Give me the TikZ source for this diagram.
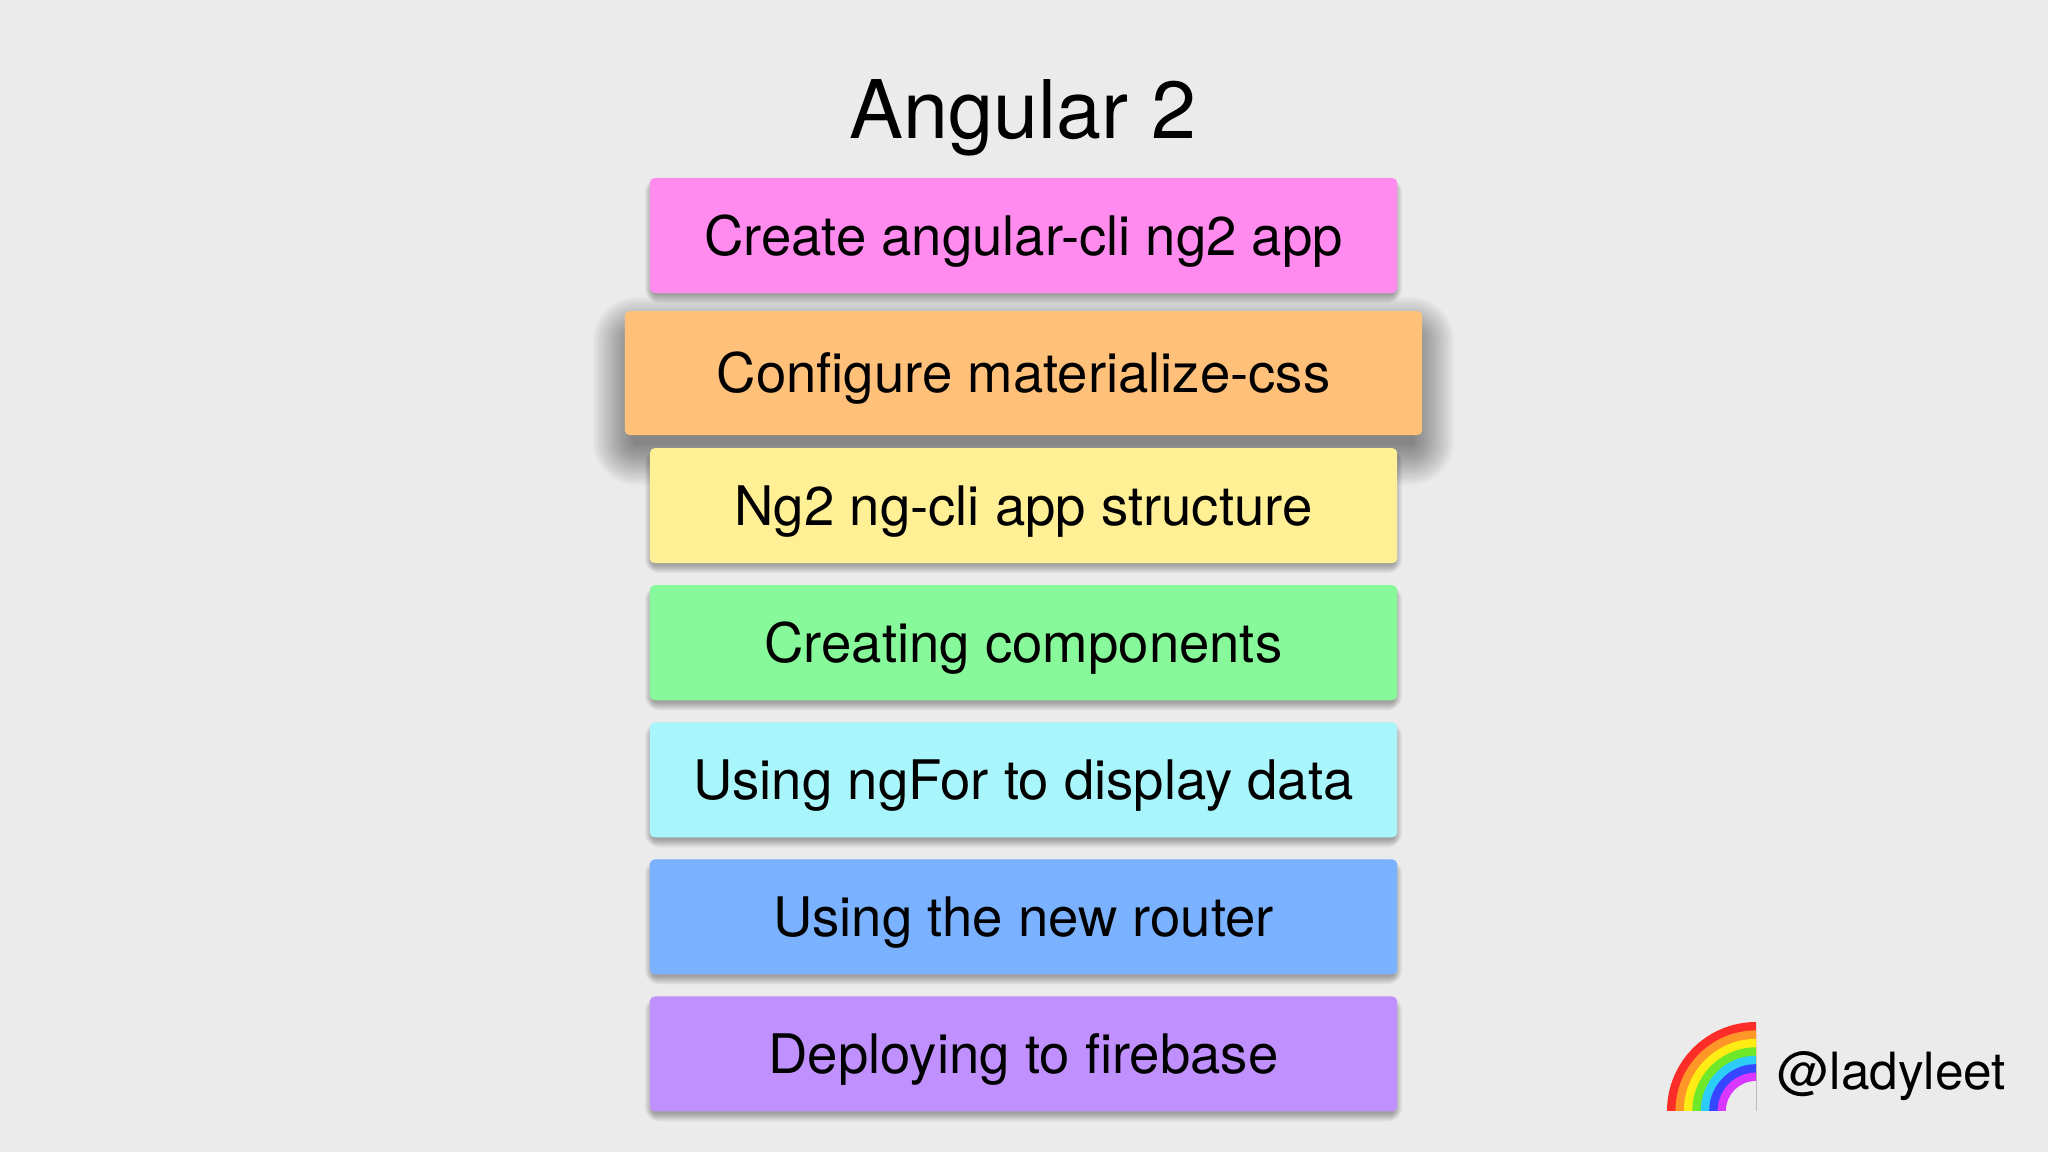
\documentclass[tikz,border=0pt]{standalone}
\usepackage{fontspec}
\setmainfont{TeX Gyre Heros}
\usetikzlibrary{positioning}
\pgfdeclarelayer{bgl}
\pgfdeclarelayer{shd}
\pgfsetlayers{bgl,shd,main}
\definecolor{bgc}{RGB}{235,235,236}
\definecolor{cpink}{RGB}{255,139,239}
\definecolor{corange}{RGB}{255,192,122}
\definecolor{cyellow}{RGB}{255,240,150}
\definecolor{cgreen}{RGB}{135,249,155}
\definecolor{ccyan}{RGB}{168,245,251}
\definecolor{cblue}{RGB}{122,178,255}
\definecolor{cpurple}{RGB}{192,144,255}
\definecolor{rb1}{RGB}{252,45,40}
\definecolor{rb2}{RGB}{255,150,40}
\definecolor{rb3}{RGB}{255,236,20}
\definecolor{rb4}{RGB}{110,232,40}
\definecolor{rb5}{RGB}{45,205,250}
\definecolor{rb6}{RGB}{55,70,255}
\definecolor{rb7}{RGB}{215,55,255}
\tikzset{
  tp/.style={rectangle, rounded corners=0.5mm, minimum width=7.47cm, minimum height=1.15cm, inner sep=0pt, outer sep=0pt, text height=11.2pt, text depth=0pt, text centered, font=\fontsize{15.5}{18}\selectfont},
  tpup/.style={tp, minimum width=7.97cm, minimum height=1.24cm},
  shd/.style={black, opacity=#1},
  node distance=2.2mm
}
\begin{document}
\begin{tikzpicture}[x=0.01cm, y=0.01cm]
	\begin{pgfonlayer}{bgl}
		\fill[bgc] (0,0) rectangle (2048,1152);
	\end{pgfonlayer}
	\useasboundingbox (0,0) rectangle (2048,1152);
	\node[anchor=base, font=\fontsize{23}{26}\selectfont] (ttl) at (1023,1013) {Angular 2};
	\node[tp, fill=cpink] (t1) at (1023.5,916.5) {Create angular-cli ng2 app};
	\node[tpup, fill=corange, below=1.8mm of t1] (t2) {Configure materialize-css};
	\node[tp, fill=cyellow, below=1.3mm of t2] (t3) {Ng2 ng-cli app structure};
	\node[tp, fill=cgreen, below=of t3] (t4) {Creating components};
	\node[tp, fill=ccyan, below=of t4] (t5) {Using ngFor to display data};
	\node[tp, fill=cblue, below=of t5] (t6) {Using the new router};
	\node[tp, fill=cpurple, below=of t6] (t7) {Deploying to firebase};
	% shadows
	\begin{pgfonlayer}{shd}
		\foreach \n in {t1,t3,t4,t5,t6,t7}
			\foreach \k in {0,...,8}
				\fill[shd=0.04, rounded corners={(\k+2)*0.15mm}] ([xshift={-(\k-3)*0.1mm}, yshift={-(\k-3)*0.1mm-0.5mm}]\n.south west) rectangle ([xshift={(\k-3)*0.1mm}, yshift={(\k-3)*0.1mm-0.5mm}]\n.north east);
		\foreach \k in {0,...,20}
			\fill[shd=0.022, rounded corners={(\k+2)*0.2mm}] ([xshift={-(\k-4)*0.2mm}, yshift={-(\k-4)*0.2mm-1.8mm}]t2.south west) rectangle ([xshift={(\k-4)*0.2mm}, yshift={(\k-4)*0.2mm-1.8mm}]t2.north east);
	\end{pgfonlayer}
	% rainbow
	\coordinate (rb) at (1756,41);
	\foreach \i in {1,...,7}
		\fill[rb\i] (rb) -- ++(-89+8.43*\i-8.43,0) arc[start angle=180, end angle=90, radius=89-8.43*\i+8.43] -- cycle;
	\fill[bgc] (rb) -- ++(-30,0) arc[start angle=180, end angle=90, radius=30] -- cycle;
	\node[anchor=base west, inner sep=0pt, font=\fontsize{14.6}{17}\selectfont] (handle) at (1777,62) {@ladyleet};
\end{tikzpicture}
\end{document}
